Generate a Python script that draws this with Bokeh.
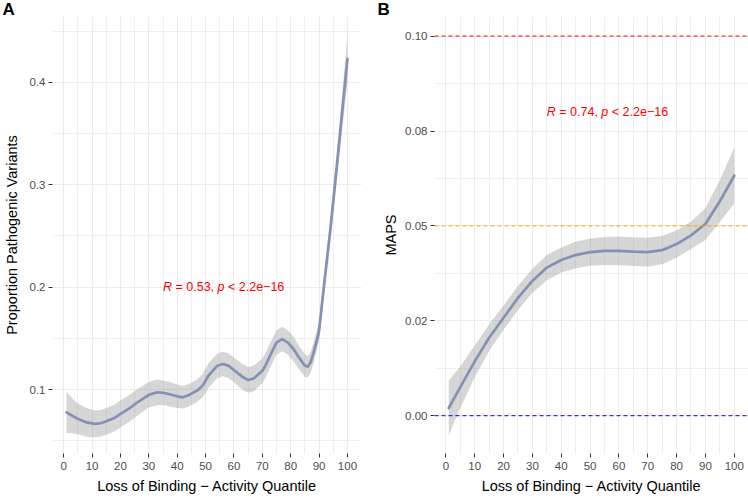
from bokeh.plotting import figure
from bokeh.layouts import row
from bokeh.models import FixedTicker, Label, Span, Title
from bokeh.embed import file_html
from bokeh.resources import INLINE

# ---------------- data ----------------
quantile_a = [1, 3, 5, 8, 11, 13, 15, 18, 20, 23, 26, 30, 33, 35, 37, 40, 42, 44, 47,
              49, 51, 54, 56, 58, 60, 63, 65, 67, 70, 71, 73, 75, 77, 79, 81, 83, 85,
              86, 87, 88, 89, 90, 91, 92, 94, 96, 98, 100]
prop_fit = [0.0778, 0.0745, 0.0715, 0.0680, 0.0666, 0.0672, 0.0691, 0.0725, 0.0763,
            0.0815, 0.0877, 0.0950, 0.0974, 0.0970, 0.0958, 0.0935, 0.0925, 0.0945,
            0.0990, 0.1040, 0.1136, 0.1230, 0.1250, 0.1235, 0.1192, 0.1125, 0.1094,
            0.1110, 0.1185, 0.1230, 0.1348, 0.1460, 0.1494, 0.1460, 0.1397, 0.1310,
            0.1235, 0.1224, 0.1265, 0.1355, 0.1460, 0.1574, 0.1830, 0.2080, 0.2570,
            0.3110, 0.3670, 0.4230]
prop_half = [0.020, 0.017, 0.015, 0.014, 0.013, 0.013, 0.013, 0.013, 0.013, 0.013,
             0.013, 0.0125, 0.0125, 0.012, 0.012, 0.0115, 0.011, 0.011, 0.011, 0.0115,
             0.012, 0.012, 0.012, 0.012, 0.012, 0.0125, 0.0125, 0.0125, 0.012, 0.012,
             0.012, 0.012, 0.012, 0.012, 0.012, 0.0115, 0.011, 0.0105, 0.0105, 0.010,
             0.010, 0.010, 0.010, 0.010, 0.011, 0.013, 0.017, 0.023]

quantile_b = [1, 5, 10, 15, 20, 25, 30, 35, 40, 45, 50, 55, 60, 65, 70, 75, 80, 85, 90, 95, 100]
maps_fit = [0.002, 0.0075, 0.0143, 0.0205, 0.0258, 0.031, 0.0355, 0.039, 0.041, 0.0423,
            0.0431, 0.0434, 0.0434, 0.0432, 0.0431, 0.0436, 0.0452, 0.0475, 0.0505,
            0.0565, 0.0632]
maps_half = [0.0072, 0.0055, 0.0042, 0.0035, 0.0032, 0.0032, 0.0032, 0.0033, 0.0033,
             0.0035, 0.0036, 0.0037, 0.0038, 0.0038, 0.0038, 0.0037, 0.0036, 0.0036,
             0.0042, 0.0055, 0.0074]

x_ticks = [0, 10, 20, 30, 40, 50, 60, 70, 80, 90, 100]
x_minor = [5, 15, 25, 35, 45, 55, 65, 75, 85, 95]
a_y_ticks = [0.1, 0.2, 0.3, 0.4]
a_y_labels = ["0.1", "0.2", "0.3", "0.4"]
a_y_minor = [0.05, 0.15, 0.25, 0.35, 0.45]
b_y_ticks = [0.0, 0.025, 0.05, 0.075, 0.1]
b_y_labels = ["0.00", "0.02", "0.05", "0.08", "0.10"]
b_y_minor = [0.0125, 0.0375, 0.0625, 0.0875]
ref_levels = [0.0, 0.05, 0.1]
ref_colors = ["#0000FF", "#FFA500", "#FF0000"]

x_title = "Loss of Binding \u2212 Activity Quantile"
FONT = "Liberation Sans"
LINE_COLOR = "#8491B4"
GRID = "#EBEBEB"
TOP = 15  # frame top (px)


def make_fig(y_range, yticks, ylabels, yminor, border_left, border_right, ytitle,
             title_standoff, letter, letter_offset):
    p = figure(width=374, height=498, x_range=(-3.95, 104.95), y_range=y_range,
               output_backend="svg", toolbar_location=None,
               min_border_left=border_left, min_border_right=border_right,
               min_border_top=TOP, min_border_bottom=45)
    p.title = Title(text=letter, align="left", offset=letter_offset, standoff=-5,
                    text_font=FONT, text_font_style="bold", text_font_size="17px",
                    text_color="black")
    p.outline_line_color = None
    p.background_fill_color = "white"
    p.border_fill_color = "white"
    p.xaxis.ticker = FixedTicker(ticks=x_ticks, minor_ticks=x_minor)
    p.yaxis.ticker = FixedTicker(ticks=yticks, minor_ticks=yminor)
    p.yaxis.major_label_overrides = {t: l for t, l in zip(yticks, ylabels)}
    p.xaxis.major_label_overrides = {t: str(t) for t in x_ticks}
    for ax in (p.xaxis[0], p.yaxis[0]):
        ax.axis_line_color = None
        ax.major_tick_line_color = "#333333"
        ax.major_tick_line_width = 1
        ax.major_tick_out = 4
        ax.major_tick_in = 0
        ax.minor_tick_line_color = None
        ax.major_label_text_font = FONT
        ax.major_label_text_font_size = "11.5px"
        ax.major_label_text_color = "#4D4D4D"
        ax.axis_label_text_font = FONT
        ax.axis_label_text_font_size = "14.5px"
        ax.axis_label_text_font_style = "normal"
        ax.axis_label_text_color = "black"
    p.xaxis.axis_label = x_title
    p.xaxis.major_label_standoff = 4
    p.xaxis.axis_label_standoff = 5
    p.yaxis.axis_label = ytitle
    p.yaxis.major_label_standoff = 3
    p.yaxis.axis_label_standoff = title_standoff
    for g in (p.xgrid[0], p.ygrid[0]):
        g.grid_line_color = GRID
        g.grid_line_width = 1.1
        g.minor_grid_line_color = GRID
        g.minor_grid_line_width = 0.8
    return p


def add_cor(p, x, y, r_text):
    fs = 12.5
    pieces = [("R", "italic", 0.0),
              ("= " + r_text + ",", "normal", (0.722 + 0.278) * fs),
              ("p", "italic", (0.722 + 3.642) * fs),
              ("< 2.2e\u221216", "normal", (0.722 + 3.642 + 0.556 + 0.278) * fs)]
    for txt, style, off in pieces:
        p.add_layout(Label(x=x, y=y, x_offset=off, text=txt, text_font=FONT,
                           text_font_style=style, text_font_size="12.5px",
                           text_color="#FF0000", text_align="left",
                           text_baseline="middle"))


# ---------------- panel A ----------------
a_scale = 1027.0   # px per unit
a_range = (0.1 - (453 - 389) / a_scale, 0.4 + (81 - TOP) / a_scale)
pa = make_fig(a_range, a_y_ticks, a_y_labels, a_y_minor, 48, 13,
              "Proportion Pathogenic Variants", 7, "A", -50)
lo_a = [f - h for f, h in zip(prop_fit, prop_half)]
hi_a = [f + h for f, h in zip(prop_fit, prop_half)]
pa.varea(x=quantile_a, y1=lo_a, y2=hi_a, fill_color="#999999", fill_alpha=0.4)
pa.line(x=quantile_a, y=prop_fit, line_color=LINE_COLOR, line_width=2.7,
        line_join="round", line_cap="round")
add_cor(pa, 35, 0.2, "0.53")

# ---------------- panel B ----------------
b_scale = 3804.0
b_range = (-(453 - 415) / b_scale, 0.1 + (34.7 - TOP) / b_scale)
pb = make_fig(b_range, b_y_ticks, b_y_labels, b_y_minor, 60, 0, "MAPS", 3, "B", -57)
lo_b = [f - h for f, h in zip(maps_fit, maps_half)]
hi_b = [f + h for f, h in zip(maps_fit, maps_half)]
for lev, col in zip(ref_levels, ref_colors):
    pb.add_layout(Span(location=lev, dimension="width", line_color=col,
                       line_width=1.1, line_dash="4 3", line_alpha=0.8))
pb.varea(x=quantile_b, y1=lo_b, y2=hi_b, fill_color="#999999", fill_alpha=0.4)
pb.line(x=quantile_b, y=maps_fit, line_color=LINE_COLOR, line_width=2.7,
        line_join="round", line_cap="round")
add_cor(pb, 35, 0.08, "0.74")

layout = row(pa, pb)
open("out.html", "w").write(file_html(layout, INLINE))
